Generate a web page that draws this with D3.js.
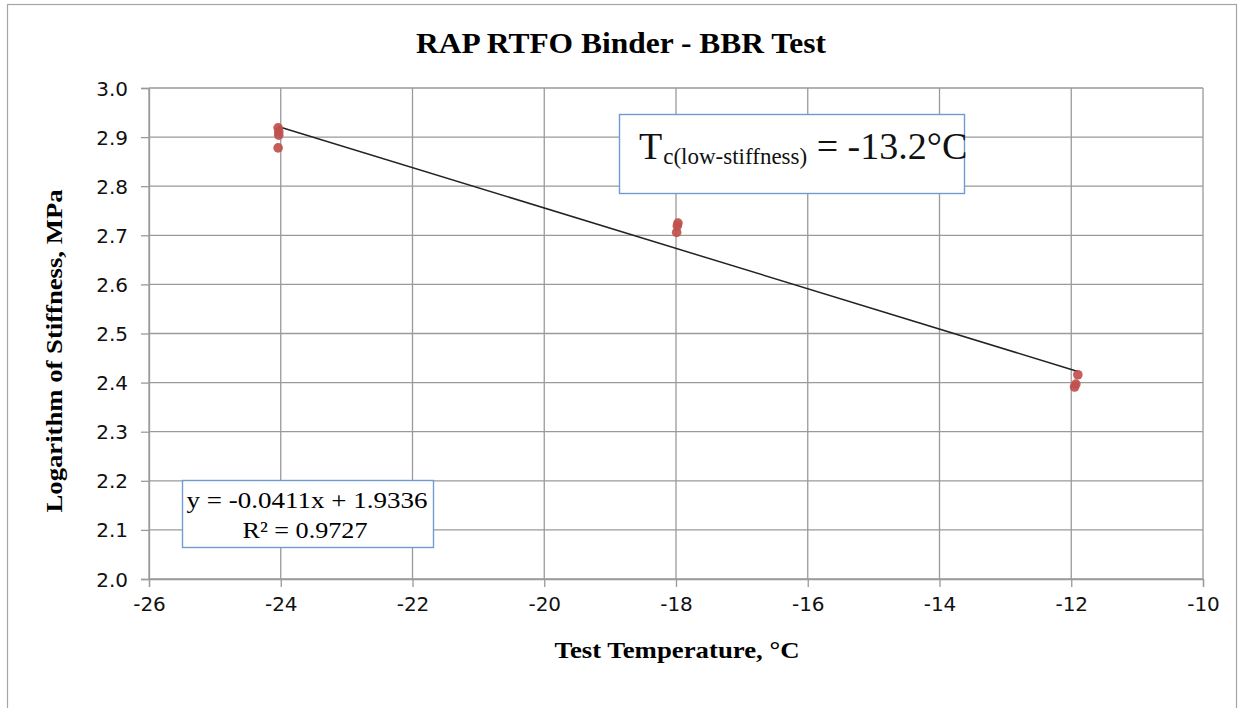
<!DOCTYPE html>
<html>
<head>
<meta charset="utf-8">
<script src="https://cdn.jsdelivr.net/npm/d3@7"></script>
<style>
  html, body { margin: 0; padding: 0; background: #fff; }
  svg { display: block; }
</style>
</head>
<body>
<svg id="chart" width="1239" height="708"></svg>
<script>
// ---- data ----
const tempX = [-24.04, -24.03, -24.03, -24.04, -17.97, -17.98, -17.99, -11.90, -11.93, -11.95];
const logStiffness = [2.919, 2.911, 2.904, 2.878, 2.725, 2.719, 2.706, 2.416, 2.397, 2.391];
const xTicks = [-26, -24, -22, -20, -18, -16, -14, -12, -10];
const yTicks = [2.0, 2.1, 2.2, 2.3, 2.4, 2.5, 2.6, 2.7, 2.8, 2.9, 3.0];
const trendSlope = -0.0411;
const trendIntercept = 1.9336;
const rSquared = 0.9727;
const chartTitle = "RAP RTFO Binder - BBR Test";
const xTitle = "Test Temperature, \u00B0C";
const yTitle = "Logarithm of Stiffness, MPa";

// ---- layout ----
const svg = d3.select("#chart");
const plot = { left: 149, right: 1203, top: 88, bottom: 579 };
const x = d3.scaleLinear().domain([-26, -10]).range([plot.left, plot.right]);
const y = d3.scaleLinear().domain([2.0, 3.0]).range([plot.bottom, plot.top]);
const serif = "'Liberation Serif', 'Times New Roman', serif";
const sans = "'DejaVu Sans', Verdana, sans-serif";
const gridColor = "#9a9a9a";

// outer chart frame
svg.append("rect").attr("x", 7.5).attr("y", 4.5).attr("width", 1229).attr("height", 720)
  .attr("fill", "#fff").attr("stroke", "#a6a6a6").attr("stroke-width", 1.2);

// gridlines
svg.append("g").selectAll("line.h").data(yTicks).join("line")
  .attr("x1", plot.left).attr("x2", plot.right)
  .attr("y1", d => y(d)).attr("y2", d => y(d))
  .attr("stroke", gridColor).attr("stroke-width", 1.3);
svg.append("g").selectAll("line.v").data(xTicks).join("line")
  .attr("x1", d => x(d)).attr("x2", d => x(d))
  .attr("y1", plot.top).attr("y2", plot.bottom)
  .attr("stroke", gridColor).attr("stroke-width", 1.3);

// axes
const xAxis = d3.axisBottom(x).tickValues(xTicks).tickSize(8).tickPadding(6).tickFormat(d => String(d));
const gx = svg.append("g").attr("transform", `translate(0,${plot.bottom})`).call(xAxis);
const yAxis = d3.axisLeft(y).tickValues(yTicks).tickSize(8).tickPadding(13).tickFormat(d => d.toFixed(1));
const gy = svg.append("g").attr("transform", `translate(${plot.left},0)`).call(yAxis);
[gx, gy].forEach(g => {
  g.select(".domain").attr("stroke", gridColor).attr("stroke-width", 1.3);
  g.selectAll(".tick line").attr("stroke", gridColor).attr("stroke-width", 1.3);
  g.selectAll(".tick text").attr("font-family", sans).attr("font-size", 20)
    .attr("fill", "#111");
});
gx.selectAll(".tick text").attr("dy", "0.9em");
gy.selectAll(".tick text").attr("dy", "0.35em");

// trendline (over the data range)
const xMin = d3.min(tempX), xMax = d3.max(tempX);
svg.append("line")
  .attr("x1", x(xMin)).attr("y1", y(trendIntercept + trendSlope * xMin))
  .attr("x2", x(xMax)).attr("y2", y(trendIntercept + trendSlope * xMax))
  .attr("stroke", "#222").attr("stroke-width", 1.5);

// points
svg.append("g").selectAll("circle").data(tempX.map((t, i) => [t, logStiffness[i]])).join("circle")
  .attr("cx", d => x(d[0])).attr("cy", d => y(d[1])).attr("r", 4.8)
  .attr("fill", "#c0504d").attr("opacity", 0.92);

// title
svg.append("text").attr("x", 621).attr("y", 53).attr("text-anchor", "middle")
  .attr("font-family", serif).attr("font-weight", "bold").attr("font-size", 29)
  .attr("textLength", 410).attr("lengthAdjust", "spacingAndGlyphs")
  .text(chartTitle);

// axis titles
svg.append("text").attr("x", 677).attr("y", 658).attr("text-anchor", "middle")
  .attr("font-family", serif).attr("font-weight", "bold").attr("font-size", 23)
  .attr("textLength", 245).attr("lengthAdjust", "spacingAndGlyphs")
  .text(xTitle);
svg.append("text").attr("transform", "translate(62,351) rotate(-90)").attr("text-anchor", "middle")
  .attr("font-family", serif).attr("font-weight", "bold").attr("font-size", 23)
  .attr("textLength", 323).attr("lengthAdjust", "spacingAndGlyphs")
  .text(yTitle);

// equation box
const boxColor = "#6f9bd1";
svg.append("rect").attr("x", 182.5).attr("y", 480.5).attr("width", 251).attr("height", 67)
  .attr("fill", "#fff").attr("stroke", boxColor).attr("stroke-width", 1.4);
svg.append("text").attr("x", 307).attr("y", 508).attr("text-anchor", "middle")
  .attr("font-family", serif).attr("font-size", 23)
  .attr("textLength", 241).attr("lengthAdjust", "spacingAndGlyphs")
  .text(`y = ${trendSlope}x + ${trendIntercept}`);
svg.append("text").attr("x", 305).attr("y", 538).attr("text-anchor", "middle")
  .attr("font-family", serif).attr("font-size", 23)
  .attr("textLength", 125).attr("lengthAdjust", "spacingAndGlyphs")
  .text(`R\u00B2 = ${rSquared}`);

// critical temperature box
svg.append("rect").attr("x", 619.5).attr("y", 114.5).attr("width", 345).attr("height", 79)
  .attr("fill", "#fff").attr("stroke", boxColor).attr("stroke-width", 1.4);
const tc = svg.append("text").attr("x", 639).attr("y", 159)
  .attr("font-family", serif).attr("font-size", 38).attr("fill", "#111");
tc.append("tspan").text("T");
tc.append("tspan").attr("font-size", 23).attr("dy", 5).attr("dx", 1).text("c(low-stiffness)");
tc.append("tspan").attr("dy", -5).text(" = -13.2\u00B0C");
</script>
</body>
</html>
